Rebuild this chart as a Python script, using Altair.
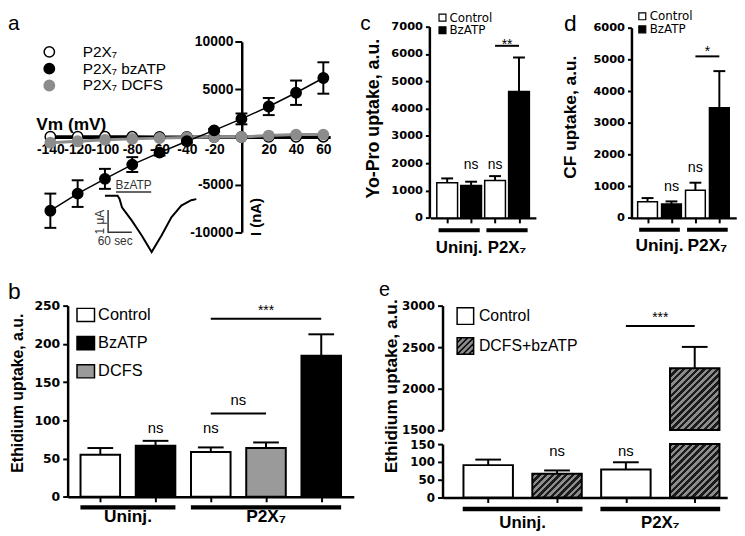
import altair as alt
import pandas as pd

# ======================= values =======================
# (a) current-voltage relation of P2X7 oocytes
VM = [-140, -120, -100, -80, -60, -40, -20, 0, 20, 40, 60]
I_P2X7 = [30, 30, 20, 20, 10, 10, 0, 0, 10, 20, 30]
I_BZATP = [-7750, -5950, -4400, -2900, -1650, -450, 700, 1900, 3200, 4650, 6200]
I_BZATP_SEM = [1800, 1400, 1050, 780, 300, 150, 150, 570, 900, 1280, 1650]
I_DCFS = [-600, -450, -300, -200, -120, -60, 0, 0, 150, 250, 250]
SERIES_A = ["P2X₇", "P2X₇ bzATP", "P2X₇ DCFS"]
VM_TICKS = [-140, -120, -100, -80, -60, -40, -20, 20, 40, 60]
IA_TICKS = [-10000, -5000, 5000, 10000]

# (a, inset) current trace during BzATP application (time s, current uA)
TRACE_T = [0, 32, 37, 43, 68, 93, 118, 143, 168, 193, 218, 231]
TRACE_I = [0, 0, -0.14, -0.53, -1.14, -1.82, -2.58, -1.82, -0.99, -0.45, -0.2, -0.15]
SCALEBAR_T = [8, 8, 68]
SCALEBAR_I = [-0.65, -1.67, -1.67]
BZ_ON, BZ_OFF, BZ_LEVEL = 28, 117, 0.18

# (b) ethidium uptake
B_TREAT = ["Control", "BzATP", "Control", "DCFS", "BzATP"]
B_CELL = ["Uninj.", "Uninj.", "P2X₇", "P2X₇", "P2X₇"]
B_MEAN = [55.1, 66.7, 58.6, 63.8, 184.4]
B_SEM = [8.7, 6.5, 6.0, 7.3, 28.1]
B_TICKS = [0, 50, 100, 150, 200, 250]

# (c) Yo-Pro uptake
C_TREAT = ["Control", "BzATP", "Control", "BzATP"]
C_CELL = ["Uninj.", "Uninj.", "P2X₇", "P2X₇"]
C_MEAN = [1290, 1190, 1370, 4630]
C_SEM = [155, 135, 160, 1245]
C_TICKS = [0, 1000, 2000, 3000, 4000, 5000, 6000, 7000]

# (d) CF uptake
D_TREAT = ["Control", "BzATP", "Control", "BzATP"]
D_CELL = ["Uninj.", "Uninj.", "P2X₇", "P2X₇"]
D_MEAN = [510, 440, 875, 3475]
D_SEM = [115, 80, 235, 1155]
D_TICKS = [0, 1000, 2000, 3000, 4000, 5000, 6000]

# (e) ethidium uptake, DCFS + bzATP (broken axis)
E_TREAT = ["Control", "DCFS+bzATP", "Control", "DCFS+bzATP"]
E_CELL = ["Uninj.", "Uninj.", "P2X₇", "P2X₇"]
E_MEAN = [91, 67, 79, 2245]
E_SEM = [15.5, 9, 20, 257]
E_TICKS_LO = [0, 50, 100, 150]
E_TICKS_HI = [1500, 2000, 2500, 3000]
E_BREAK_LO, E_BREAK_HI = 150, 1500

# ================================ layout ==================================
OFF = 8
W, H = 737, 528
SANS = "Liberation Sans"
DJ = "DejaVu Sans"
INK = "#333333"
GRAY_A = "#8c8c8c"
LBL = "'' + datum.value"
U = alt.Undefined


def P(v):
    return v - OFF


def sc(domain, rng):
    return alt.Scale(domain=domain, range=[P(r) for r in rng], nice=False, zero=False)


def QX(field, scale, axis=U):
    return alt.X(f"{field}:Q", scale=scale, axis=axis)


def QY(field, scale, axis=U):
    return alt.Y(f"{field}:Q", scale=scale, axis=axis)


def left_axis(values, x_page, font, size, title=None, cx=None, cy=None, tsize=16, tick=5, pad=3):
    kw = dict(orient="left", offset=-P(x_page), values=values, labelExpr=LBL,
              labelFont=font, labelFontSize=size, labelFontWeight="bold", labelColor="black",
              labelPadding=pad, labelOverlap=False, labelFlush=False, labelBound=False,
              tickSize=tick, tickWidth=2, tickColor="black",
              domainWidth=2.5, domainColor="black", grid=False)
    if title:
        kw.update(title=title, titleX=cx - x_page, titleY=P(cy), titleAngle=270,
                  titleAlign="center", titleBaseline="middle", titleFont=SANS,
                  titleFontSize=tsize, titleFontWeight="bold", titleColor="black")
    else:
        kw["title"] = None
    return alt.Axis(**kw)


def bottom_axis(n, y_page):
    return alt.Axis(orient="bottom", offset=P(y_page) - H, values=list(range(n)), labels=False,
                    tickSize=5, tickWidth=2, tickColor="black", domainWidth=2.5,
                    domainColor="black", grid=False, title=None)


def make_legend(lx, ly, size, font, fsize, offset, rowpad, **extra):
    return alt.Legend(orient="none", legendX=lx, legendY=ly, title=None, direction="vertical",
                      symbolSize=size, symbolOpacity=1, labelFont=font, labelFontSize=fsize,
                      labelColor="black", labelOffset=offset, rowPadding=rowpad, padding=0, **extra)


def bar_df(treat, cell, mean, sem):
    df = pd.DataFrame({"treat": treat, "cell": cell, "mean": mean, "sem": sem})
    df["pos"] = list(range(len(df)))
    df["top"] = df["mean"] + df["sem"]
    return df


def err_layers(df, xs, ys, cap):
    rule = alt.Chart(df).mark_rule(color="black", strokeWidth=2).encode(
        x=QX("pos", xs), y=QY("mean", ys), y2="top:Q")
    tick = alt.Chart(df).mark_tick(orient="horizontal", size=cap, thickness=2, color="black",
                                   opacity=1).encode(x=QX("pos", xs), y=QY("top", ys))
    return [rule, tick]


def texts(rows, xs, ys, size, font=SANS, weight="normal"):
    df = pd.DataFrame(rows, columns=["label", "x", "y"])
    return [alt.Chart(df).mark_text(font=font, fontSize=size, fontWeight=weight, color="black",
                                    align="center", baseline="alphabetic").encode(
        x=QX("x", xs), y=QY("y", ys), text="label:N")]


def hlines(rows, xs, ys, width=2):
    df = pd.DataFrame(rows, columns=["x1", "x2", "y"])
    return [alt.Chart(df).mark_rule(color="black", strokeWidth=width).encode(
        x=QX("x1", xs), x2="x2:Q", y=QY("y", ys))]


def brackets(cell, xs, ys, y_line, y_lab, ext, lw, lab_size):
    df = pd.DataFrame({"cell": cell, "pos": list(range(len(cell)))})
    g = df.groupby("cell", sort=False)["pos"].agg(lo="min", hi="max").reset_index()
    g["x1"] = g["lo"] - ext
    g["x2"] = g["hi"] + ext
    g["xm"] = (g["lo"] + g["hi"]) / 2
    g["y"] = y_line
    g["yl"] = y_lab
    rule = alt.Chart(g).mark_rule(color="black", strokeWidth=lw).encode(
        x=QX("x1", xs), x2="x2:Q", y=QY("y", ys))
    lab = alt.Chart(g).mark_text(font=SANS, fontSize=lab_size, fontWeight="bold", color="black",
                                 align="center", baseline="alphabetic").encode(
        x=QX("xm", xs), y=QY("yl", ys), text="cell:N")
    return [rule, lab]


def bar_panel(df, xs, ys, xaxis, yaxis, width, sw, cap, fill_scale, legend):
    bars = alt.Chart(df).mark_bar(size=width, stroke="black", strokeWidth=sw).encode(
        x=QX("pos", xs, xaxis), y=QY("mean", ys, yaxis),
        y2=alt.datum(0), fill=alt.Fill("treat:N", scale=fill_scale, legend=legend))
    return [bars] + err_layers(df, xs, ys, cap)


def hatch(w, h, period=4.8, dark="#1b1b1b", light="#8c8c8c"):
    k = (w + h) / (w * w + h * h)
    n = (w + h) / (2 ** 0.5 * period)
    stops = []
    i = 0
    while i < n:
        a = i / n
        b = min((i + 0.5) / n, 1.0)
        c = min((i + 1.0) / n, 1.0)
        stops += [(a, dark), (b, dark), (b, light), (c, light)]
        i += 1
    return {"gradient": "linear", "x1": 0, "y1": 0, "x2": round(k * w, 4), "y2": round(k * h, 4),
            "stops": [{"offset": round(o, 4), "color": col} for o, col in stops]}


# ================================ panel a =================================
xa = sc([-144, 65], [45.3, 333.7])
ya = sc([-10000, 10000], [231.7, 39.3])
xaxis_a = alt.Axis(orient="bottom", offset=P(135.5) - H, values=VM_TICKS, labelExpr=LBL,
                   labelFont=SANS, labelFontSize=14, labelFontWeight="bold", labelColor="black",
                   labelPadding=6, labelOverlap=False, labelFlush=False, labelBound=False,
                   tickSize=0, domainWidth=3, domainColor="black", grid=False,
                   title="Vm (mV)", titleX=P(36), titleY=-13, titleAlign="left",
                   titleBaseline="middle", titleAngle=0, titleFont=SANS, titleFontSize=17.5,
                   titleFontWeight="bold", titleColor="black")
yaxis_a = left_axis(IA_TICKS, 244.3, SANS, 14, "I (nA)", 258, 216, 15, tick=7, pad=2)

df_ctrl = pd.DataFrame({"vm": VM, "i": I_P2X7, "series": SERIES_A[0]})
df_dcfs = pd.DataFrame({"vm": VM, "i": I_DCFS, "series": SERIES_A[2]})
df_bz = pd.DataFrame({"vm": VM, "i": I_BZATP, "sem": I_BZATP_SEM, "series": SERIES_A[1]})
df_bz["lo"] = df_bz["i"] - df_bz["sem"]
df_bz["hi"] = df_bz["i"] + df_bz["sem"]
df_pts = pd.concat([df_ctrl, df_dcfs, df_bz[["vm", "i", "series"]]], ignore_index=True)

fill_a = alt.Scale(domain=SERIES_A, range=["white", "black", GRAY_A])
stroke_a = alt.Scale(domain=SERIES_A, range=["black", "black", GRAY_A])
leg_a = make_legend(P(48) - 6, P(51) - 9.3, 110, SANS, 15.5, 26, -2.2, symbolType="circle",
                    symbolStrokeWidth=1.5)

main_a = alt.layer(
    alt.Chart(df_ctrl).mark_line(color="black", strokeWidth=3).encode(
        x=QX("vm", xa, xaxis_a), y=QY("i", ya, yaxis_a)),
    alt.Chart(df_dcfs).mark_line(color=GRAY_A, strokeWidth=3).encode(x=QX("vm", xa), y=QY("i", ya)),
    alt.Chart(df_bz).mark_line(color="black", strokeWidth=1.5).encode(x=QX("vm", xa), y=QY("i", ya)),
    alt.Chart(df_bz).mark_rule(color="black", strokeWidth=2).encode(
        x=QX("vm", xa), y=QY("lo", ya), y2="hi:Q"),
    alt.Chart(df_bz).mark_tick(orient="horizontal", size=12, thickness=2, color="black",
                               opacity=1).encode(x=QX("vm", xa), y=QY("lo", ya)),
    alt.Chart(df_bz).mark_tick(orient="horizontal", size=12, thickness=2, color="black",
                               opacity=1).encode(x=QX("vm", xa), y=QY("hi", ya)),
    alt.Chart(df_pts).mark_point(filled=True, shape="circle", size=110, opacity=1,
                                 strokeWidth=1.5).encode(
        x=QX("vm", xa), y=QY("i", ya),
        fill=alt.Fill("series:N", scale=fill_a, legend=leg_a),
        stroke=alt.Stroke("series:N", scale=stroke_a, legend=leg_a)),
)

xt = sc([0, 231], [106, 198.4])
yt = sc([-3, 1], [261, 173])
df_trace = pd.DataFrame({"t": TRACE_T, "i": TRACE_I})
df_sbar = pd.DataFrame({"t": SCALEBAR_T, "i": SCALEBAR_I, "k": list(range(len(SCALEBAR_T)))})
df_appl = pd.DataFrame({"t0": [BZ_ON], "t1": [BZ_OFF], "i": [BZ_LEVEL]})
df_itxt = pd.DataFrame({"label": ["BzATP", "60 sec"],
                        "t": [(BZ_ON + BZ_OFF) / 2, 25.8], "i": [0.30, -2.27]})
df_ua = pd.DataFrame({"label": ["1 μA"], "t": [-2.5], "i": [-1.21]})

inset_a = alt.layer(
    alt.Chart(df_trace).mark_line(color="black", strokeWidth=2).encode(
        x=QX("t", xt, None), y=QY("i", yt, None)),
    alt.Chart(df_sbar).mark_line(color=INK, strokeWidth=1.5).encode(
        x=QX("t", xt, None), y=QY("i", yt, None), order="k:Q"),
    alt.Chart(df_appl).mark_rule(color=INK, strokeWidth=1.5).encode(
        x=QX("t0", xt, None), x2="t1:Q", y=QY("i", yt, None)),
    alt.Chart(df_itxt).mark_text(font=SANS, fontSize=12, color=INK, align="center",
                                 baseline="alphabetic").encode(
        x=QX("t", xt, None), y=QY("i", yt, None), text="label:N"),
    alt.Chart(df_ua).mark_text(font=SANS, fontSize=12, color=INK, align="center",
                               baseline="alphabetic", angle=270).encode(
        x=QX("t", xt, None), y=QY("i", yt, None), text="label:N"),
)

panel_a = alt.layer(main_a, inset_a).resolve_scale(x="independent", y="independent")

# ================================ panel b =================================
xb = sc([-0.5, 4.5], [68.4, 357.6])
yb = sc([0, 250], [499.3, 306])
df_b = bar_df(B_TREAT, B_CELL, B_MEAN, B_SEM)
fill_b = alt.Scale(domain=["Control", "BzATP", "DCFS"], range=["white", "black", "#9a9a9a"])
leg_b = make_legend(P(86.2) - 9.6, P(315) - 9.6, 313, SANS, 16.5, 2.5, 8.5,
                    symbolType="M-1,-0.75H1V0.75H-1Z", symbolStrokeColor="black",
                    symbolStrokeWidth=1.5)
layers_b = bar_panel(df_b, xb, yb, bottom_axis(5, 499.3),
                     left_axis(B_TICKS, 68.3, DJ, 12.5, "Ethidium uptake, a.u.", 18, 394, 16),
                     40, 2, 26, fill_b, leg_b)
layers_b += texts([("ns", 1, 83.2), ("ns", 2, 83.2), ("ns", 2.5, 119.7)], xb, yb, 15)
layers_b += texts([("***", 3, 238)], xb, yb, 14)
layers_b += hlines([(2, 3, 109), (2, 4, 232.8)], xb, yb)
layers_b += brackets(B_CELL, xb, yb, -13.8, -33.2, 0.36, 4.5, 17.5)
panel_b = alt.layer(*layers_b)

# ================================ panel c =================================
xc = sc([-0.5, 3.5], [434.9, 541.7])
yc = sc([0, 7000], [217.3, 24])
df_c = bar_df(C_TREAT, C_CELL, C_MEAN, C_SEM)
fill_c = alt.Scale(domain=["Control", "BzATP"], range=["white", "black"])
leg_c = make_legend(P(445.5) - 4.25, P(16) - 7.2, 49, DJ, 12, 1, 0.8, symbolType="square",
                    symbolStrokeColor="black", symbolStrokeWidth=1.2)
layers_c = bar_panel(df_c, xc, yc, bottom_axis(4, 217.3),
                     left_axis(C_TICKS, 434, DJ, 11.5, "Yo-Pro uptake, a.u.", 378, 116.5, 18, tick=4),
                     21, 1.5, 12, fill_c, leg_c)
layers_c += texts([("ns", 1, 1774), ("ns", 2, 1774)], xc, yc, 14)
layers_c += texts([("**", 2.5, 6177)], xc, yc, 14)
layers_c += hlines([(2, 3, 6300)], xc, yc)
layers_c += brackets(C_CELL, xc, yc, -449, -1289, 0.36, 4, 17)
panel_c = alt.layer(*layers_c)

# ================================ panel d =================================
xd = sc([-0.5, 3.5], [637.45, 744.25])
yd = sc([0, 6000], [217.3, 25])
df_d = bar_df(D_TREAT, D_CELL, D_MEAN, D_SEM)
fill_d = alt.Scale(domain=["Control", "BzATP"], range=["white", "black"])
leg_d = make_legend(P(647.5) - 4.25, P(14.7) - 7.2, 49, DJ, 12, 1.5, 1.2, symbolType="square",
                    symbolStrokeColor="black", symbolStrokeWidth=1.2)
layers_d = bar_panel(df_d, xd, yd, bottom_axis(4, 217.3),
                     left_axis(D_TICKS, 638.3, DJ, 11.5, "CF uptake, a.u.", 576.7, 115, 17.5, tick=4),
                     20, 1.5, 12, fill_d, leg_d)
layers_d += texts([("ns", 1, 852), ("ns", 2, 1445)], xd, yd, 14.5)
layers_d += texts([("*", 2.5, 5110)], xd, yd, 14)
layers_d += hlines([(2, 3, 5095)], xd, yd)
layers_d += brackets(D_CELL, xd, yd, -374, -1045, 0.35, 4, 17.5)
panel_d = alt.layer(*layers_d)

# ================================ panel e =================================
xe = sc([-0.59, 3.4], [447.4, 735.1])
ye_lo = sc([0, E_BREAK_LO], [500, 446])
ye_hi = sc([E_BREAK_HI, 3000], [431.7, 306])
PX_LO = (500 - 446) / E_BREAK_LO
PX_HI = (431.7 - 306) / (3000 - E_BREAK_HI)
HATCHED = "DCFS+bzATP"
HATCH_PATH = ("M-1,-1H1V1H-1Z M-1,-0.4L-0.4,-1 M-1,0.3L0.3,-1 M-1,1L1,-1 "
              "M-0.3,1L1,-0.3 M0.4,1L1,0.4")
df_e = bar_df(E_TREAT, E_CELL, E_MEAN, E_SEM)
base_e = alt.Chart(df_e).transform_calculate(yl=f"min(datum.mean, {E_BREAK_LO})")

lower_e = [
    base_e.transform_filter("datum.treat == 'Control'").mark_bar(
        size=50, stroke="black", strokeWidth=2, fill="white").encode(
        x=QX("pos", xe, bottom_axis(4, 500)),
        y=QY("yl", ye_lo, left_axis(E_TICKS_LO, 447.3, DJ, 12, "Ethidium uptake, a.u.",
                                    396, 387, 17.5)),
        y2=alt.datum(0)),
]
for i, (t, m) in enumerate(zip(E_TREAT, E_MEAN)):
    if t == HATCHED:
        lower_e.append(base_e.transform_filter(f"datum.pos == {i}").mark_bar(
            size=50, stroke="black", strokeWidth=2,
            fill=hatch(50, min(m, E_BREAK_LO) * PX_LO)).encode(
            x=QX("pos", xe), y=QY("yl", ye_lo), y2=alt.datum(0)))
lo_err = alt.Chart(df_e).transform_filter(f"datum.top <= {E_BREAK_LO}")
lower_e += [
    lo_err.mark_rule(color="black", strokeWidth=2).encode(
        x=QX("pos", xe), y=QY("mean", ye_lo), y2="top:Q"),
    lo_err.mark_tick(orient="horizontal", size=26, thickness=2, color="black", opacity=1).encode(
        x=QX("pos", xe), y=QY("top", ye_lo)),
]
fill_e = alt.Scale(domain=["Control", HATCHED], range=["white", "#8c8c8c"])
stroke_e = alt.Scale(domain=["Control", HATCHED], range=["black", "black"])
shape_e = alt.Scale(domain=["Control", HATCHED], range=["square", HATCH_PATH])
leg_e = make_legend(P(470) - 9.1, P(316.7) - 9.6, 279, SANS, 16, 4.2, 7.2,
                    symbolStrokeWidth=1.5)
lower_e.append(base_e.mark_point(filled=True, opacity=0, strokeWidth=1.5).encode(
    x=QX("pos", xe), y=QY("yl", ye_lo),
    fill=alt.Fill("treat:N", scale=fill_e, legend=leg_e),
    stroke=alt.Stroke("treat:N", scale=stroke_e, legend=leg_e),
    shape=alt.Shape("treat:N", scale=shape_e, legend=leg_e)))
lower_e += texts([("ns", 1, 116.7), ("ns", 2, 116.7)], xe, ye_lo, 15)
lower_e += brackets(E_CELL, xe, ye_lo, -32.5, -86, 0.37, 4.5, 17)

upper_e = []
first = True
for i, (t, m) in enumerate(zip(E_TREAT, E_MEAN)):
    if m > E_BREAK_HI:
        upper_e.append(alt.Chart(df_e).transform_filter(f"datum.pos == {i}").mark_bar(
            size=50, stroke="black", strokeWidth=2,
            fill=hatch(50, (m - E_BREAK_HI) * PX_HI)).encode(
            x=QX("pos", xe, None),
            y=QY("mean", ye_hi, left_axis(E_TICKS_HI, 447.3, DJ, 12) if first else U),
            y2=alt.datum(E_BREAK_HI)))
        first = False
hi_err = alt.Chart(df_e).transform_filter(f"datum.mean > {E_BREAK_HI}")
upper_e += [
    hi_err.mark_rule(color="black", strokeWidth=2).encode(
        x=QX("pos", xe, None), y=QY("mean", ye_hi), y2="top:Q"),
    hi_err.mark_tick(orient="horizontal", size=26, thickness=2, color="black", opacity=1).encode(
        x=QX("pos", xe, None), y=QY("top", ye_hi)),
    alt.Chart(pd.DataFrame([("***", 2.5, 2797)], columns=["label", "x", "y"])).mark_text(
        font=SANS, fontSize=14, color="black", align="center", baseline="alphabetic").encode(
        x=QX("x", xe, None), y=QY("y", ye_hi), text="label:N"),
    alt.Chart(pd.DataFrame([(2, 3, 2753)], columns=["x1", "x2", "y"])).mark_rule(
        color="black", strokeWidth=2).encode(x=QX("x1", xe, None), x2="x2:Q", y=QY("y", ye_hi)),
]

panel_e = alt.layer(alt.layer(*lower_e), alt.layer(*upper_e)).resolve_scale(
    x="independent", y="independent")

# ============================= panel letters ==============================
LETTERS = ["a", "b", "c", "d", "e"]
LETTER_POS = [(2, 27, 21), (0, 299, 23), (364, 27, 21), (570, 28, 23), (383, 296, 20)]
letter_layers = []
for ch, (lx, ly, fs) in zip(LETTERS, LETTER_POS):
    letter_layers.append(
        alt.Chart(pd.DataFrame({"l": [ch]})).mark_text(
            font=SANS, fontSize=fs, align="left", baseline="alphabetic", color="black").encode(
            text="l:N", x=alt.value(max(P(lx), 0)), y=alt.value(P(ly))))

chart = alt.layer(panel_a, panel_b, panel_c, panel_d, panel_e, *letter_layers).resolve_scale(
    x="independent", y="independent", fill="independent", stroke="independent",
    shape="independent"
).properties(
    width=W, height=H, autosize=alt.AutoSizeParams(type="none"), padding=0
).configure_view(stroke=None).configure_axis(grid=False)

chart.save("out.html", embed_options={"renderer": "svg", "actions": False})
